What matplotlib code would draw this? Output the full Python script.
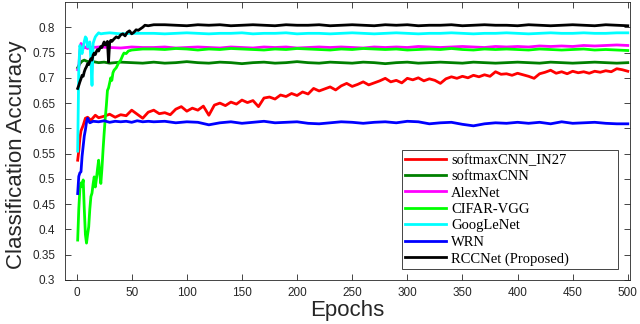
import numpy as np
import matplotlib.pyplot as plt

# epochs shared by the flat tails of most curves
tail_ep = list(range(70, 501, 10))

# softmaxCNN_IN27 (red)
red_ep = [1, 2, 3, 4, 6, 8, 10, 13, 17, 20] + list(range(25, 501, 5))
red_acc = [0.537, 0.555, 0.580, 0.595, 0.606, 0.620, 0.622, 0.616, 0.626, 0.621,
           0.624, 0.628, 0.622, 0.627, 0.625, 0.636, 0.628, 0.620, 0.632, 0.636, 0.629, 0.631,
           0.627, 0.638, 0.643, 0.634, 0.640, 0.636, 0.644, 0.626, 0.646, 0.650, 0.645, 0.652,
           0.648, 0.656, 0.651, 0.655, 0.643, 0.660, 0.662, 0.658, 0.666, 0.663, 0.669, 0.665,
           0.672, 0.668, 0.679, 0.674, 0.678, 0.682, 0.676, 0.684, 0.689, 0.683, 0.687, 0.692,
           0.686, 0.690, 0.694, 0.699, 0.692, 0.695, 0.690, 0.699, 0.696, 0.700, 0.694, 0.698,
           0.695, 0.689, 0.698, 0.702, 0.699, 0.703, 0.700, 0.705, 0.702, 0.706, 0.703, 0.712,
           0.707, 0.708, 0.705, 0.709, 0.706, 0.703, 0.699, 0.708, 0.711, 0.715, 0.709, 0.712,
           0.708, 0.713, 0.710, 0.712, 0.709, 0.713, 0.711, 0.714, 0.712, 0.718, 0.716, 0.713]

# softmaxCNN (dark green)
dg_ep = [1, 3, 5, 7, 9, 12, 15, 20, 25, 30, 40, 50, 60] + tail_ep
dg_acc = [0.720, 0.728, 0.733, 0.735, 0.733, 0.731, 0.732, 0.730, 0.731, 0.729, 0.731, 0.730, 0.729,
          0.731, 0.729, 0.730, 0.732, 0.730, 0.729, 0.731, 0.730, 0.728, 0.730, 0.731,
          0.729, 0.730, 0.732, 0.730, 0.729, 0.731, 0.730, 0.729, 0.731, 0.730, 0.728,
          0.730, 0.731, 0.729, 0.730, 0.731, 0.730, 0.729, 0.731, 0.730, 0.729, 0.730,
          0.731, 0.730, 0.729, 0.731, 0.730, 0.729, 0.730, 0.731, 0.730, 0.729, 0.730]

# AlexNet (magenta)
mg_ep = [1, 2, 3, 4, 5, 6, 7, 8, 10, 12, 15, 20, 30, 40, 50, 60] + tail_ep
mg_acc = [0.716, 0.720, 0.752, 0.768, 0.765, 0.758, 0.762, 0.760, 0.758, 0.761, 0.760, 0.761,
          0.760, 0.759, 0.761, 0.760,
          0.760, 0.761, 0.759, 0.760, 0.761, 0.760, 0.759, 0.761, 0.760, 0.759, 0.761,
          0.760, 0.761, 0.759, 0.760, 0.761, 0.760, 0.761, 0.760, 0.759, 0.761, 0.760,
          0.761, 0.760, 0.762, 0.761, 0.760, 0.761, 0.762, 0.761, 0.760, 0.762, 0.761,
          0.762, 0.761, 0.763, 0.762, 0.763, 0.762, 0.764, 0.763, 0.764, 0.765, 0.764]

# CIFAR-VGG (green)
gr_ep = list(range(1, 32)) + [32, 33, 34, 36, 38, 40, 42, 43, 45, 47, 50, 55, 60] + tail_ep
gr_acc = [0.379, 0.440, 0.480, 0.492, 0.485, 0.498, 0.440, 0.390, 0.373, 0.390,
          0.405, 0.440, 0.465, 0.472, 0.490, 0.504, 0.484, 0.500, 0.520, 0.537,
          0.510, 0.491, 0.520, 0.557, 0.590, 0.620, 0.645, 0.675, 0.680, 0.690, 0.700,
          0.695, 0.710, 0.715, 0.720, 0.729, 0.735, 0.745, 0.749, 0.748, 0.753, 0.755, 0.756, 0.757,
          0.757, 0.756, 0.758, 0.757, 0.755, 0.757, 0.756, 0.758, 0.757, 0.756, 0.755,
          0.757, 0.756, 0.758, 0.757, 0.756, 0.755, 0.757, 0.756, 0.758, 0.757, 0.756,
          0.757, 0.755, 0.756, 0.757, 0.756, 0.758, 0.756, 0.755, 0.757, 0.756, 0.757,
          0.756, 0.755, 0.757, 0.756, 0.755, 0.756, 0.757, 0.755, 0.756, 0.755, 0.754]

# GoogLeNet (cyan)
cy_ep = list(range(1, 19)) + [20, 22, 25, 30, 40, 50, 60] + tail_ep
cy_acc = [0.555, 0.720, 0.764, 0.755, 0.748, 0.760, 0.772, 0.781, 0.778, 0.761,
          0.765, 0.771, 0.735, 0.685, 0.768, 0.775, 0.781, 0.784,
          0.789, 0.787, 0.788, 0.789, 0.787, 0.788, 0.788,
          0.788, 0.787, 0.788, 0.789, 0.788, 0.787, 0.788, 0.788, 0.789, 0.787, 0.788,
          0.788, 0.789, 0.787, 0.788, 0.788, 0.787, 0.788, 0.789, 0.788, 0.787, 0.788,
          0.789, 0.788, 0.787, 0.788, 0.788, 0.789, 0.788, 0.787, 0.788, 0.788, 0.789,
          0.788, 0.787, 0.788, 0.789, 0.788, 0.788, 0.789, 0.788, 0.788, 0.789, 0.789]

# WRN (blue)
bl_ep = list(range(1, 11)) + [12, 15, 20, 25, 30, 35, 40, 45, 50, 55, 60, 65] + tail_ep
bl_acc = [0.471, 0.505, 0.512, 0.514, 0.545, 0.565, 0.585, 0.597, 0.612, 0.620,
          0.611, 0.614, 0.613, 0.615, 0.612, 0.614, 0.613, 0.614, 0.612, 0.615, 0.613, 0.614,
          0.613, 0.614, 0.611, 0.613, 0.612, 0.607, 0.611, 0.613, 0.610, 0.612, 0.614,
          0.611, 0.612, 0.613, 0.610, 0.609, 0.611, 0.613, 0.612, 0.610, 0.612, 0.613,
          0.611, 0.614, 0.613, 0.609, 0.611, 0.612, 0.608, 0.605, 0.609, 0.611, 0.610,
          0.612, 0.610, 0.612, 0.609, 0.613, 0.610, 0.611, 0.612, 0.610, 0.609, 0.609]

# RCCNet (black)
bk_ep = list(range(1, 33)) + [34, 36, 38, 40, 42, 44, 46, 48, 50, 52, 54, 56, 58, 60, 62, 65] + tail_ep
bk_acc = [0.679, 0.685, 0.692, 0.698, 0.705, 0.703, 0.712, 0.718, 0.722, 0.728,
          0.726, 0.733, 0.738, 0.735, 0.745, 0.749, 0.746, 0.752, 0.756, 0.753,
          0.758, 0.762, 0.760, 0.766, 0.771, 0.765, 0.768, 0.772, 0.731, 0.770, 0.774, 0.772,
          0.777, 0.781, 0.779, 0.785, 0.787, 0.783, 0.790, 0.793, 0.787, 0.790, 0.795, 0.794,
          0.797, 0.800, 0.804, 0.803,
          0.805, 0.805, 0.804, 0.803, 0.805, 0.804, 0.805, 0.803, 0.804, 0.805, 0.804,
          0.803, 0.805, 0.804, 0.804, 0.805, 0.803, 0.804, 0.805, 0.804, 0.803, 0.805,
          0.804, 0.805, 0.803, 0.804, 0.804, 0.805, 0.803, 0.804, 0.805, 0.804, 0.804,
          0.803, 0.805, 0.804, 0.803, 0.804, 0.805, 0.804, 0.803, 0.805, 0.804, 0.803]

series = [
    (red_ep, red_acc, "#ff0000", "softmaxCNN_IN27"),
    (dg_ep, dg_acc, "#008000", "softmaxCNN"),
    (mg_ep, mg_acc, "#ff00ff", "AlexNet"),
    (gr_ep, gr_acc, "#00ff00", "CIFAR-VGG"),
    (cy_ep, cy_acc, "#00ffff", "GoogLeNet"),
    (bl_ep, bl_acc, "#0000ff", "WRN"),
    (bk_ep, bk_acc, "#000000", "RCCNet (Proposed)"),
]

plt.rcParams['font.family'] = ['Liberation Sans', 'DejaVu Sans']
fig = plt.figure(figsize=(6.4, 3.24), dpi=100)
ax = fig.add_axes([65 / 640, 44 / 324, 565 / 640, 278 / 324])

for ep, acc, col, name in series:
    ax.plot(np.array(ep), np.array(acc), color=col, lw=2, label=name)

ax.set_xlim(-10.5, 502)
ax.set_ylim(0.3, 0.85)
ax.set_xticks(np.arange(0, 501, 50))
ax.set_yticks(np.arange(0.3, 0.801, 0.05))
ax.set_yticklabels(["0.3", "0.35", "0.4", "0.45", "0.5", "0.55", "0.6", "0.65", "0.7", "0.75", "0.8"])
ax.tick_params(direction='in', top=True, right=True, length=4, width=0.6,
               colors='#262626', labelsize=8.5)
ax.tick_params(axis='y', pad=7)
ax.tick_params(axis='x', pad=5)
for sp in ax.spines.values():
    sp.set_color('#262626')
    sp.set_linewidth(0.6)

ax.set_xlabel("Epochs", fontsize=16, color='#262626')
ax.set_ylabel("Classification Accuracy", fontsize=16, color='#262626')
ax.xaxis.set_label_coords(0.5, -0.072)
ax.yaxis.set_label_coords(-0.068, 0.45)

leg = ax.legend(loc='upper left', bbox_to_anchor=(0.596, 0.038, 0.382, 0.43), mode='expand',
                prop={'family': 'Liberation Serif', 'size': 10.5}, fancybox=False,
                edgecolor='#262626', framealpha=1, borderpad=0.25, labelspacing=0.22,
                handlelength=2.8, handletextpad=0.35, borderaxespad=0)
leg.get_frame().set_linewidth(0.6)

plt.savefig("out.png", dpi=100)
